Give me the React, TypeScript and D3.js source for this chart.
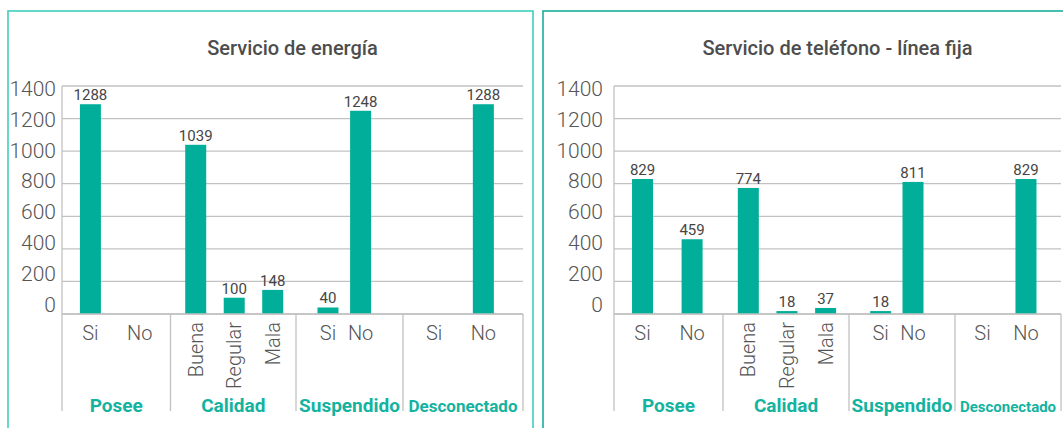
import React, { useEffect, useRef } from 'react'
import * as d3 from 'd3'

// data
const groups = ['Posee', 'Calidad', 'Suspendido', 'Desconectado']
const groupItems = [['Si', 'No'], ['Buena', 'Regular', 'Mala'], ['Si', 'No'], ['Si', 'No']]
const energiaValues = [[1288, null], [1039, 100, 148], [40, 1248], [null, 1288]]
const telefonoValues = [[829, 459], [774, 18, 37], [18, 811], [null, 829]]
const yTicks = [0, 200, 400, 600, 800, 1000, 1200, 1400]
const titles = ['Servicio de energía', 'Servicio de teléfono - línea fija']

// layout
const W = 1063, H = 428
const barColor = '#00ae99'
const gridColor = '#c2c2c2'
const font = 'Roboto, sans-serif'
const groupPadding = [0.6, 0.63, 1.14, 0.72]
const groupAlign = [0.48, 0.52, 0.43, 0.44]

const panels = [
    { title: titles[0], values: energiaValues, box: [8, 11, 525], left: 62, widths: [108.5, 125.5, 107, 120], tickGap: 6, border: '#3fcfbf', labelSize: [19, 19, 19, 17] },
    { title: titles[1], values: telefonoValues, box: [543, 11, 540], left: 614, widths: [109, 126, 106, 106], tickGap: 11, border: '#1aae9c', labelSize: [19, 19, 19, 15] },
]

const drawPanel = (svg, p) => {
    const top = 86, base = 314, catBottom = 411
    const edges = [p.left, ...d3.cumsum(p.widths).map(d => p.left + d)]
    const right = edges[edges.length - 1]

    const y = d3.scaleLinear().domain([0, 1400]).range([base, top])
    const yLabel = d3.scaleLinear().domain([0, 1400]).range([304.5, 88.5])

    const g = svg.append('g')

    g.append('rect')
        .attr('x', p.box[0]).attr('y', p.box[1])
        .attr('width', p.box[2]).attr('height', 440)
        .attr('fill', 'none').attr('stroke', p.border).attr('stroke-width', 1.6)

    g.append('text')
        .attr('x', (p.left + right) / 2).attr('y', 55)
        .attr('text-anchor', 'middle')
        .style('font-family', font).style('font-weight', 500).style('font-size', '20px')
        .attr('fill', '#4d4d4d')
        .text(p.title)

    // gridlines
    g.append('g').selectAll('line')
        .data(yTicks)
        .join('line')
        .attr('x1', p.left).attr('x2', right)
        .attr('y1', d => y(d)).attr('y2', d => y(d))
        .attr('stroke', gridColor).attr('stroke-width', 1.3)

    g.append('g').selectAll('text')
        .data(yTicks)
        .join('text')
        .attr('x', p.left - p.tickGap).attr('y', d => yLabel(d))
        .attr('dy', '0.35em')
        .attr('text-anchor', 'end')
        .style('font-family', font).style('font-weight', 300).style('font-size', '21px')
        .attr('fill', '#555')
        .text(d => d)

    // category separators
    g.append('line')
        .attr('x1', p.left).attr('x2', p.left).attr('y1', top).attr('y2', catBottom)
        .attr('stroke', gridColor).attr('stroke-width', 1.3)
    g.append('g').selectAll('line')
        .data(edges.slice(1))
        .join('line')
        .attr('x1', d => d).attr('x2', d => d).attr('y1', base).attr('y2', catBottom)
        .attr('stroke', gridColor).attr('stroke-width', 1.3)

    groups.forEach((name, gi) => {
        const x = d3.scalePoint()
            .domain(d3.range(groupItems[gi].length))
            .range([edges[gi], edges[gi + 1]])
            .padding(groupPadding[gi])
            .align(groupAlign[gi])
        const items = groupItems[gi].map((label, i) => ({ label, value: p.values[gi][i], cx: x(i) }))
        const bw = 21

        g.append('g').selectAll('rect')
            .data(items.filter(d => d.value != null))
            .join('rect')
            .attr('x', d => d.cx - bw / 2)
            .attr('width', bw)
            .attr('y', d => y(d.value))
            .attr('height', d => base - y(d.value))
            .attr('fill', barColor)

        g.append('g').selectAll('text')
            .data(items.filter(d => d.value != null))
            .join('text')
            .attr('x', d => d.cx).attr('y', d => y(d.value) - 4)
            .attr('text-anchor', 'middle')
            .style('font-family', font).style('font-size', '15px')
            .attr('fill', '#454545')
            .text(d => d.value)

        const rotated = name === 'Calidad'
        g.append('g').selectAll('text')
            .data(items)
            .join('text')
            .attr('transform', d => rotated ? `translate(${d.cx},322) rotate(-90)` : `translate(${d.cx},340)`)
            .attr('dy', rotated ? '0.35em' : 0)
            .attr('text-anchor', rotated ? 'end' : 'middle')
            .style('font-family', font).style('font-weight', 300).style('font-size', '20px')
            .attr('fill', '#555')
            .text(d => d.label)

        g.append('text')
            .attr('x', (edges[gi] + edges[gi + 1]) / 2).attr('y', 412)
            .attr('text-anchor', 'middle')
            .style('font-family', font).style('font-weight', 700).style('font-size', p.labelSize[gi] + 'px')
            .attr('fill', '#14b39f')
            .text(name)
    })

    // x axis baseline
    g.append('line')
        .attr('x1', p.left).attr('x2', right).attr('y1', base).attr('y2', base)
        .attr('stroke', gridColor).attr('stroke-width', 1.5)
}

export default function App() {
    const ref = useRef(null)

    useEffect(() => {
        const svg = d3.select(ref.current)
        svg.selectAll('*').remove()
        panels.forEach(p => drawPanel(svg, p))
    }, [])

    return (
        <svg ref={ref} width={W} height={H}
            style={{ position: 'fixed', left: 0, top: 0, background: '#fff', display: 'block' }} />
    )
}
